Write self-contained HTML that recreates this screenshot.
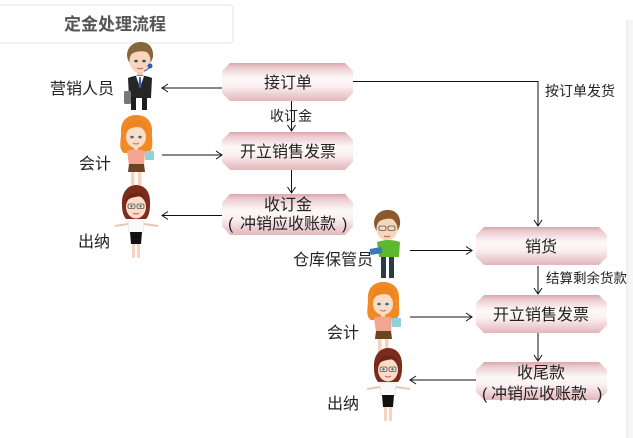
<!DOCTYPE html>
<html><head><meta charset="utf-8"><style>
html,body{margin:0;padding:0;background:#fff;width:633px;height:438px;overflow:hidden;}
svg{display:block;}
text{font-family:"Liberation Sans","Noto Sans CJK SC",sans-serif;fill:#222;}
</style></head><body>
<svg width="633" height="438" viewBox="0 0 633 438" xmlns="http://www.w3.org/2000/svg">
<defs>
<linearGradient id="bx" x1="0" y1="0" x2="0" y2="1">
<stop offset="0" stop-color="#dba6ad"/>
<stop offset="0.12" stop-color="#ecccd0"/>
<stop offset="0.4" stop-color="#fdf8f8"/>
<stop offset="0.6" stop-color="#fbf1f2"/>
<stop offset="1" stop-color="#e3b6bb"/>
</linearGradient>
<g id="box">
<path d="M8,0 H123 L131,8 V30 L123,38 H8 L0,30 V8 Z" fill="url(#bx)"/>
</g>
<g id="acct">
<path d="M3,18 C2,5 10,0 18,0 C28,0 35,6 34,18 C34,28 36,34 30,38 L6,38 C0,34 3,26 3,18 Z" fill="#f08a26"/>
<ellipse cx="18" cy="22" rx="10" ry="11" fill="#fbdcc6"/>
<path d="M6,18 C8,6 16,4 22,5 C28,6 31,12 30,18 C26,12 20,11 14,13 C10,14 8,16 6,18 Z" fill="#ee8420"/>
<ellipse cx="14" cy="22" rx="1.8" ry="1.3" fill="#3a6a8a"/>
<ellipse cx="22" cy="22" rx="1.8" ry="1.3" fill="#3a6a8a"/>
<path d="M15,28 Q18,30 21,28" stroke="#c66" stroke-width="1" fill="none"/>
<rect x="16" y="32" width="4" height="4" fill="#fbdcc6"/>
<path d="M9,36 Q18,33 27,36 L26,50 L11,50 Z" fill="#f4a592"/>
<rect x="27" y="36" width="9" height="9" rx="1" fill="#8ed3da"/>
<path d="M11,49 H26 L27,57 H10 Z" fill="#6b4522"/>
<rect x="13" y="57" width="3.5" height="13" fill="#f8d2b8"/>
<rect x="20" y="57" width="3.5" height="13" fill="#f8d2b8"/>
</g>
<g id="cash">
<path d="M9,20 C8,6 16,0 23,0 C32,0 38,7 37,20 C37,28 35,32 33,34 L13,34 C10,30 9,26 9,20 Z" fill="#7c2c1d"/>
<ellipse cx="23" cy="22" rx="10" ry="11.5" fill="#fbdcc8"/>
<path d="M12,17 C14,7 26,5 33,12 C30,11 22,11 16,14 Z" fill="#6e2416"/>
<rect x="15" y="19" width="7" height="4.5" rx="1.5" fill="none" stroke="#555" stroke-width="0.8"/>
<rect x="24" y="19" width="7" height="4.5" rx="1.5" fill="none" stroke="#555" stroke-width="0.8"/>
<circle cx="18.5" cy="21.3" r="1.2" fill="#3a7090"/>
<circle cx="27.5" cy="21.3" r="1.2" fill="#3a7090"/>
<path d="M20,28 Q23,30 26,28" stroke="#c55" stroke-width="1" fill="none"/>
<path d="M15,36 Q23,33 31,36 L30,48 L16,48 Z" fill="#fafafa" stroke="#ddd" stroke-width="0.5"/>
<line x1="2" y1="41" x2="15" y2="39" stroke="#e8c8b4" stroke-width="2"/>
<line x1="31" y1="39" x2="45" y2="41" stroke="#e8c8b4" stroke-width="2"/>
<path d="M17,47 H29 L28,59 H18 Z" fill="#111"/>
<rect x="19" y="59" width="3" height="14" fill="#f6d4bf"/>
<rect x="24" y="59" width="3" height="14" fill="#f6d4bf"/>
</g>
</defs>

<!-- title -->
<rect x="-5" y="5" width="238" height="38" rx="4" fill="#fff" stroke="#e6e6e6"/>
<text x="115" y="30" font-size="17" font-weight="bold" text-anchor="middle" style="fill:#555">定金处理流程</text>

<!-- right strip -->
<rect x="627" y="20" width="6" height="418" fill="#f6f6f6"/>
<line x1="627" y1="20" x2="627" y2="438" stroke="#e4e4e4"/>

<!-- boxes -->
<use href="#box" x="222" y="63"/>
<use href="#box" x="222" y="132"/>
<g transform="translate(222,194) scale(1,1.08)"><use href="#box"/></g>
<use href="#box" x="476" y="227"/>
<use href="#box" x="476" y="295"/>
<use href="#box" x="476" y="362"/>

<!-- box texts -->
<g font-size="16" text-anchor="middle">
<text x="288" y="88">接订单</text>
<text x="288" y="157">开立销售发票</text>
<text x="288" y="210">收订金</text>
<text x="288" y="229">冲销应收账款</text>
<text x="541" y="252">销货</text>
<text x="541" y="320">开立销售发票</text>
<text x="541" y="378">收尾款</text>
<text x="539" y="399">冲销应收账款</text>
</g>
<g font-size="16">
<text x="228" y="229">(</text>
<text x="342" y="229">)</text>
<text x="482" y="399">(</text>
<text x="597" y="399">)</text>
</g>

<!-- connectors -->
<g stroke="#111" stroke-width="1" fill="none">
<line x1="222" y1="88" x2="162" y2="88"/><polyline points="168,84 162,88 168,92"/>
<line x1="162" y1="155" x2="222" y2="155"/><polyline points="216,151 222,155 216,159"/>
<line x1="222" y1="215.5" x2="162" y2="215.5"/><polyline points="168,211.5 162,215.5 168,219.5"/>
<line x1="291.5" y1="101" x2="291.5" y2="131"/><polyline points="287.5,125 291.5,131 295.5,125"/>
<line x1="291.5" y1="170" x2="291.5" y2="193"/><polyline points="287.5,187 291.5,193 295.5,187"/>
<polyline points="353,81.5 538,81.5 538,226"/><polyline points="534,220 538,226 542,220"/>
<line x1="410" y1="250.5" x2="472" y2="250.5"/><polyline points="466,246.5 472,250.5 466,254.5"/>
<line x1="538" y1="266" x2="538" y2="294"/><polyline points="534,288 538,294 542,288"/>
<line x1="410" y1="317" x2="472" y2="317"/><polyline points="466,313 472,317 466,321"/>
<line x1="538" y1="333" x2="538" y2="361"/><polyline points="534,355 538,361 542,355"/>
<line x1="476" y1="380" x2="410" y2="380"/><polyline points="416,376 410,380 416,384"/>
</g>

<!-- edge labels -->
<text x="291" y="121" font-size="14" text-anchor="middle">收订金</text>
<text x="545" y="96" font-size="14">按订单发货</text>
<text x="546" y="283" font-size="13.5">结算剩余货款</text>

<!-- person labels -->
<g font-size="16">
<text x="50" y="94">营销人员</text>
<text x="79" y="169">会计</text>
<text x="78" y="247">出纳</text>
<text x="293" y="265">仓库保管员</text>
<text x="327" y="338">会计</text>
<text x="327" y="409">出纳</text>
</g>

<!-- businessman -->
<g transform="translate(124,42)">
<ellipse cx="16" cy="13" rx="13" ry="13" fill="#8a6a40"/>
<ellipse cx="16" cy="19" rx="10.5" ry="12" fill="#f7d6bb"/>
<path d="M4,16 C4,4 12,0 17,0 C25,0 30,6 29,16 C26,10 20,8 12,10 C8,11 6,13 4,16 Z" fill="#86663c"/>
<ellipse cx="12" cy="19" rx="1.8" ry="1.3" fill="#3a4a5a"/>
<ellipse cx="20" cy="19" rx="1.8" ry="1.3" fill="#3a4a5a"/>
<path d="M13,26 Q16,27.5 19,26" stroke="#b66" stroke-width="1" fill="none"/>
<circle cx="26" cy="24" r="2.5" fill="#2f5fa8"/>
<path d="M26,24 Q24,28 20,29" stroke="#2f5fa8" stroke-width="1" fill="none"/>
<rect x="13" y="30" width="6" height="4" fill="#f2ccb0"/>
<path d="M4,36 Q16,31 28,36 L27,56 L5,56 Z" fill="#262626"/>
<path d="M12,34 L16,46 L20,34 Z" fill="#fff"/>
<path d="M15.2,35 L16.8,35 L17.5,44 L16,47 L14.5,44 Z" fill="#2f5fa8"/>
<rect x="7" y="55" width="5" height="13" fill="#1e1e1e"/>
<rect x="18" y="55" width="5" height="13" fill="#1e1e1e"/>
<rect x="0" y="49" width="7" height="13" rx="1.5" fill="#777"/>
</g>

<use href="#acct" x="118" y="115"/>
<use href="#cash" x="113" y="185"/>

<!-- warehouse keeper -->
<g transform="translate(370,210)">
<ellipse cx="17" cy="13" rx="13" ry="13" fill="#8a5a2c"/>
<ellipse cx="17" cy="19" rx="10.5" ry="11.5" fill="#f7d6bb"/>
<path d="M5,16 C5,4 12,0 18,0 C26,0 31,6 30,15 C27,9 20,7 12,10 C9,11 7,13 5,16 Z" fill="#8a5a2c"/>
<rect x="9" y="16" width="7" height="4.5" rx="1.5" fill="none" stroke="#555" stroke-width="0.8"/>
<rect x="18" y="16" width="7" height="4.5" rx="1.5" fill="none" stroke="#555" stroke-width="0.8"/>
<path d="M14,26 Q17,27.5 20,26" stroke="#b66" stroke-width="1" fill="none"/>
<path d="M7,32 Q18,28 30,32 L29,47 L9,47 Z" fill="#5db830"/>
<rect x="0" y="38" width="12" height="6" rx="1" fill="#3a78b8" transform="rotate(-10 6 41)"/>
<rect x="11" y="47" width="5" height="21" fill="#2d3b45"/>
<rect x="19" y="47" width="5" height="21" fill="#2d3b45"/>
</g>

<use href="#acct" x="365" y="282"/>
<use href="#cash" x="365" y="348"/>
</svg>
</body></html>
